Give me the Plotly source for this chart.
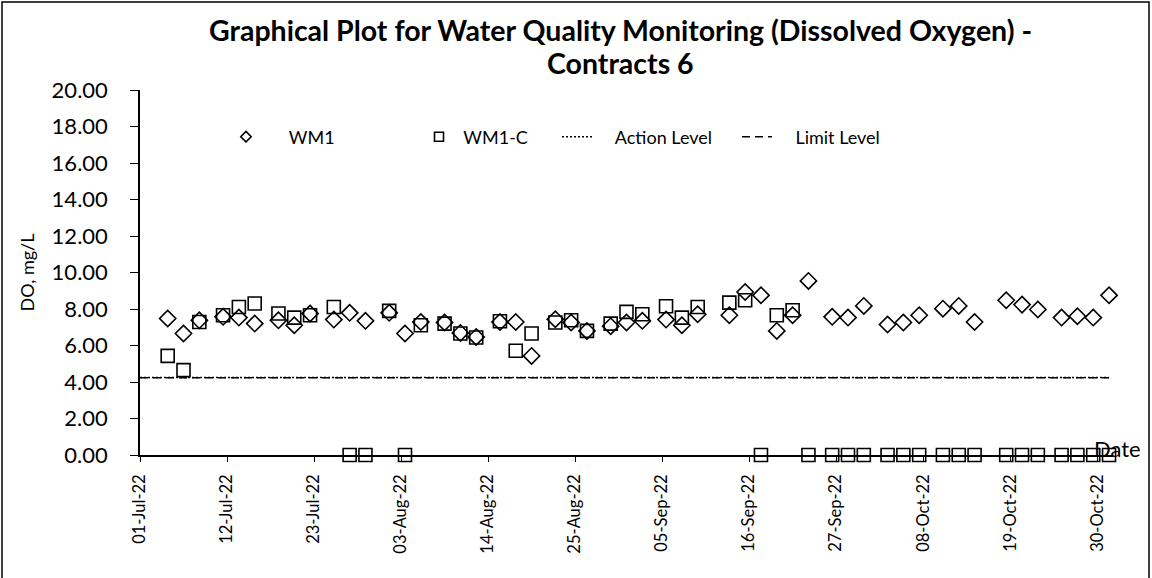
import plotly.graph_objects as go

# ---- data ----
sample_dates = ["2022-07-04","2022-07-06","2022-07-08","2022-07-11","2022-07-13","2022-07-15",
                "2022-07-18","2022-07-20","2022-07-22","2022-07-25","2022-07-27","2022-07-29",
                "2022-08-01","2022-08-03","2022-08-05","2022-08-08","2022-08-10","2022-08-12",
                "2022-08-15","2022-08-17","2022-08-19","2022-08-22","2022-08-24","2022-08-26",
                "2022-08-29","2022-08-31","2022-09-02","2022-09-05","2022-09-07","2022-09-09",
                "2022-09-13","2022-09-15","2022-09-17","2022-09-19","2022-09-21","2022-09-23",
                "2022-09-26","2022-09-28","2022-09-30","2022-10-03","2022-10-05","2022-10-07",
                "2022-10-10","2022-10-12","2022-10-14","2022-10-18","2022-10-20","2022-10-22",
                "2022-10-25","2022-10-27","2022-10-29","2022-10-31"]
sample_times = [d + " 12:00" for d in sample_dates]

wm1 = [7.48, 6.66, 7.38, 7.57, 7.53, 7.20, 7.38, 7.11, 7.75, 7.42, 7.79, 7.35,
       7.79, 6.66, 7.29, 7.26, 6.69, 6.47, 7.29, 7.29, 5.43, 7.44, 7.26, 6.80,
       7.06, 7.26, 7.35, 7.42, 7.11, 7.71, 7.66, 8.93, 8.75, 6.80, 7.66, 9.54,
       7.57, 7.53, 8.17, 7.15, 7.26, 7.66, 8.02, 8.17, 7.29, 8.48, 8.24, 7.97,
       7.53, 7.60, 7.53, 8.75]
wm1_c = [5.43, 4.65, 7.29, 7.66, 8.11, 8.30, 7.75, 7.53, 7.66, 8.11, 0.00, 0.00,
         7.90, 0.00, 7.11, 7.20, 6.66, 6.44, 7.33, 5.71, 6.66, 7.26, 7.38, 6.80,
         7.20, 7.84, 7.71, 8.15, 7.53, 8.11, 8.35, 8.48, 0.00, 7.66, 7.93, 0.00,
         0.00, 0.00, 0.00, 0.00, 0.00, 0.00, 0.00, 0.00, 0.00, 0.00, 0.00, 0.00,
         0.00, 0.00, 0.00, 0.00]

level_dates = ["2022-07-01", "2022-10-31 12:00"]
action_level = [4.25, 4.25]
limit_level = [4.23, 4.23]

tick_dates = ["2022-07-01","2022-07-12","2022-07-23","2022-08-03","2022-08-14","2022-08-25",
              "2022-09-05","2022-09-16","2022-09-27","2022-10-08","2022-10-19","2022-10-30"]
tick_labels = ["01-Jul-22","12-Jul-22","23-Jul-22","03-Aug-22","14-Aug-22","25-Aug-22",
               "05-Sep-22","16-Sep-22","27-Sep-22","08-Oct-22","19-Oct-22","30-Oct-22"]
y_ticks = [0, 2, 4, 6, 8, 10, 12, 14, 16, 18, 20]
y_tick_labels = ["%.2f" % v for v in y_ticks]

title_line1 = "Graphical Plot for Water Quality Monitoring (Dissolved Oxygen) -"
title_line2 = "Contracts 6"

FONT = "Lato"
W, H = 1152, 578
L, R, T, B = 140, 39, 90, 123
pw, ph = W - L - R, H - T - B

def px(xp):
    return (xp - L) / pw

def py(yp):
    return (H - B - yp) / ph

NB = "\u00a0"
fig = go.Figure()

fig.add_trace(go.Scatter(x=level_dates, y=action_level, mode="lines", name=NB * 4 + "Action Level",
                         line=dict(color="black", width=1.5, dash="2px,2px"),
                         legend="legend3", hoverinfo="skip"))
fig.add_trace(go.Scatter(x=level_dates, y=limit_level, mode="lines", name=NB * 4 + "Limit Level",
                         line=dict(color="black", width=1.5, dash="8px,5px"),
                         legend="legend4", hoverinfo="skip"))
fig.add_trace(go.Scatter(x=sample_times, y=wm1, mode="markers", name="WM1", showlegend=False,
                         marker=dict(symbol="diamond-open", size=12.5, color="black",
                                     line=dict(width=1.6, color="black")),
                         cliponaxis=False))
fig.add_trace(go.Scatter(x=sample_times, y=wm1_c, mode="markers", name="WM1-C", showlegend=False,
                         marker=dict(symbol="square-open", size=13, color="black",
                                     line=dict(width=1.6, color="black")),
                         cliponaxis=False))
# legend entries with smaller symbols
fig.add_trace(go.Scatter(x=[None], y=[None], mode="markers", name=NB * 5 + "WM1",
                         marker=dict(symbol="diamond-open", size=8, color="black",
                                     line=dict(width=1.6, color="black")),
                         legend="legend"))
fig.add_trace(go.Scatter(x=[None], y=[None], mode="markers", name=NB + "WM1-C",
                         marker=dict(symbol="square-open", size=9, color="black",
                                     line=dict(width=1.6, color="black")),
                         legend="legend2"))

leg_y = py(137)
leg_common = dict(orientation="h", yanchor="middle", y=leg_y, xanchor="left",
                  font=dict(family=FONT, size=18, color="black"), bgcolor="rgba(0,0,0,0)",
                  itemclick=False, itemdoubleclick=False)
fig.update_layout(
    legend=dict(x=px(226), **leg_common),
    legend2=dict(x=px(419), **leg_common),
    legend3=dict(x=px(557), **leg_common),
    legend4=dict(x=px(737), **leg_common),
)

fig.update_layout(
    width=W, height=H,
    margin=dict(l=L, r=R, t=T, b=B, autoexpand=False),
    paper_bgcolor="white", plot_bgcolor="white",
    font=dict(family=FONT, color="black"),
    showlegend=True,
    xaxis=dict(range=["2022-07-01", "2022-11-01"], tickvals=tick_dates, ticktext=tick_labels,
               tickangle=-90, showgrid=False, zeroline=False, showline=True,
               linecolor="black", linewidth=1.5, ticks="outside", ticklen=5, tickwidth=1.2,
               tickcolor="black", ticklabelstandoff=6,
               tickfont=dict(family=FONT, size=16.5, color="black")),
    yaxis=dict(range=[0, 20], tickvals=y_ticks, ticktext=y_tick_labels, showgrid=False,
               zeroline=False, showline=True, linecolor="black", linewidth=1.5,
               ticks="outside", ticklen=8, tickwidth=1.2, tickcolor="black",
               ticklabelstandoff=18,
               tickfont=dict(family=FONT, size=22, color="black"),
               title=dict(text="DO, mg/L", font=dict(family=FONT, size=18, color="black"),
                          standoff=12)),
    annotations=[
        dict(text="<b>" + title_line1 + "</b>",
             xref="paper", yref="paper", x=px(620), y=py(30), xanchor="center", yanchor="middle",
             showarrow=False, font=dict(family=FONT, size=28.5, color="black")),
        dict(text="<b>" + title_line2 + "</b>",
             xref="paper", yref="paper", x=px(620), y=py(63), xanchor="center", yanchor="middle",
             showarrow=False, font=dict(family=FONT, size=28.5, color="black")),
        dict(text="Date", xref="paper", yref="paper", x=px(1092), y=py(448), xanchor="left",
             yanchor="middle", showarrow=False, font=dict(family=FONT, size=22, color="black")),
    ],
    shapes=[dict(type="rect", xref="paper", yref="paper", x0=px(2), x1=px(1149), y0=py(580), y1=py(2),
                 line=dict(color="black", width=1.5), layer="above")],
)

fig.write_html("out.html", config={"displayModeBar": False},
               post_script="document.body.style.margin='0';")
